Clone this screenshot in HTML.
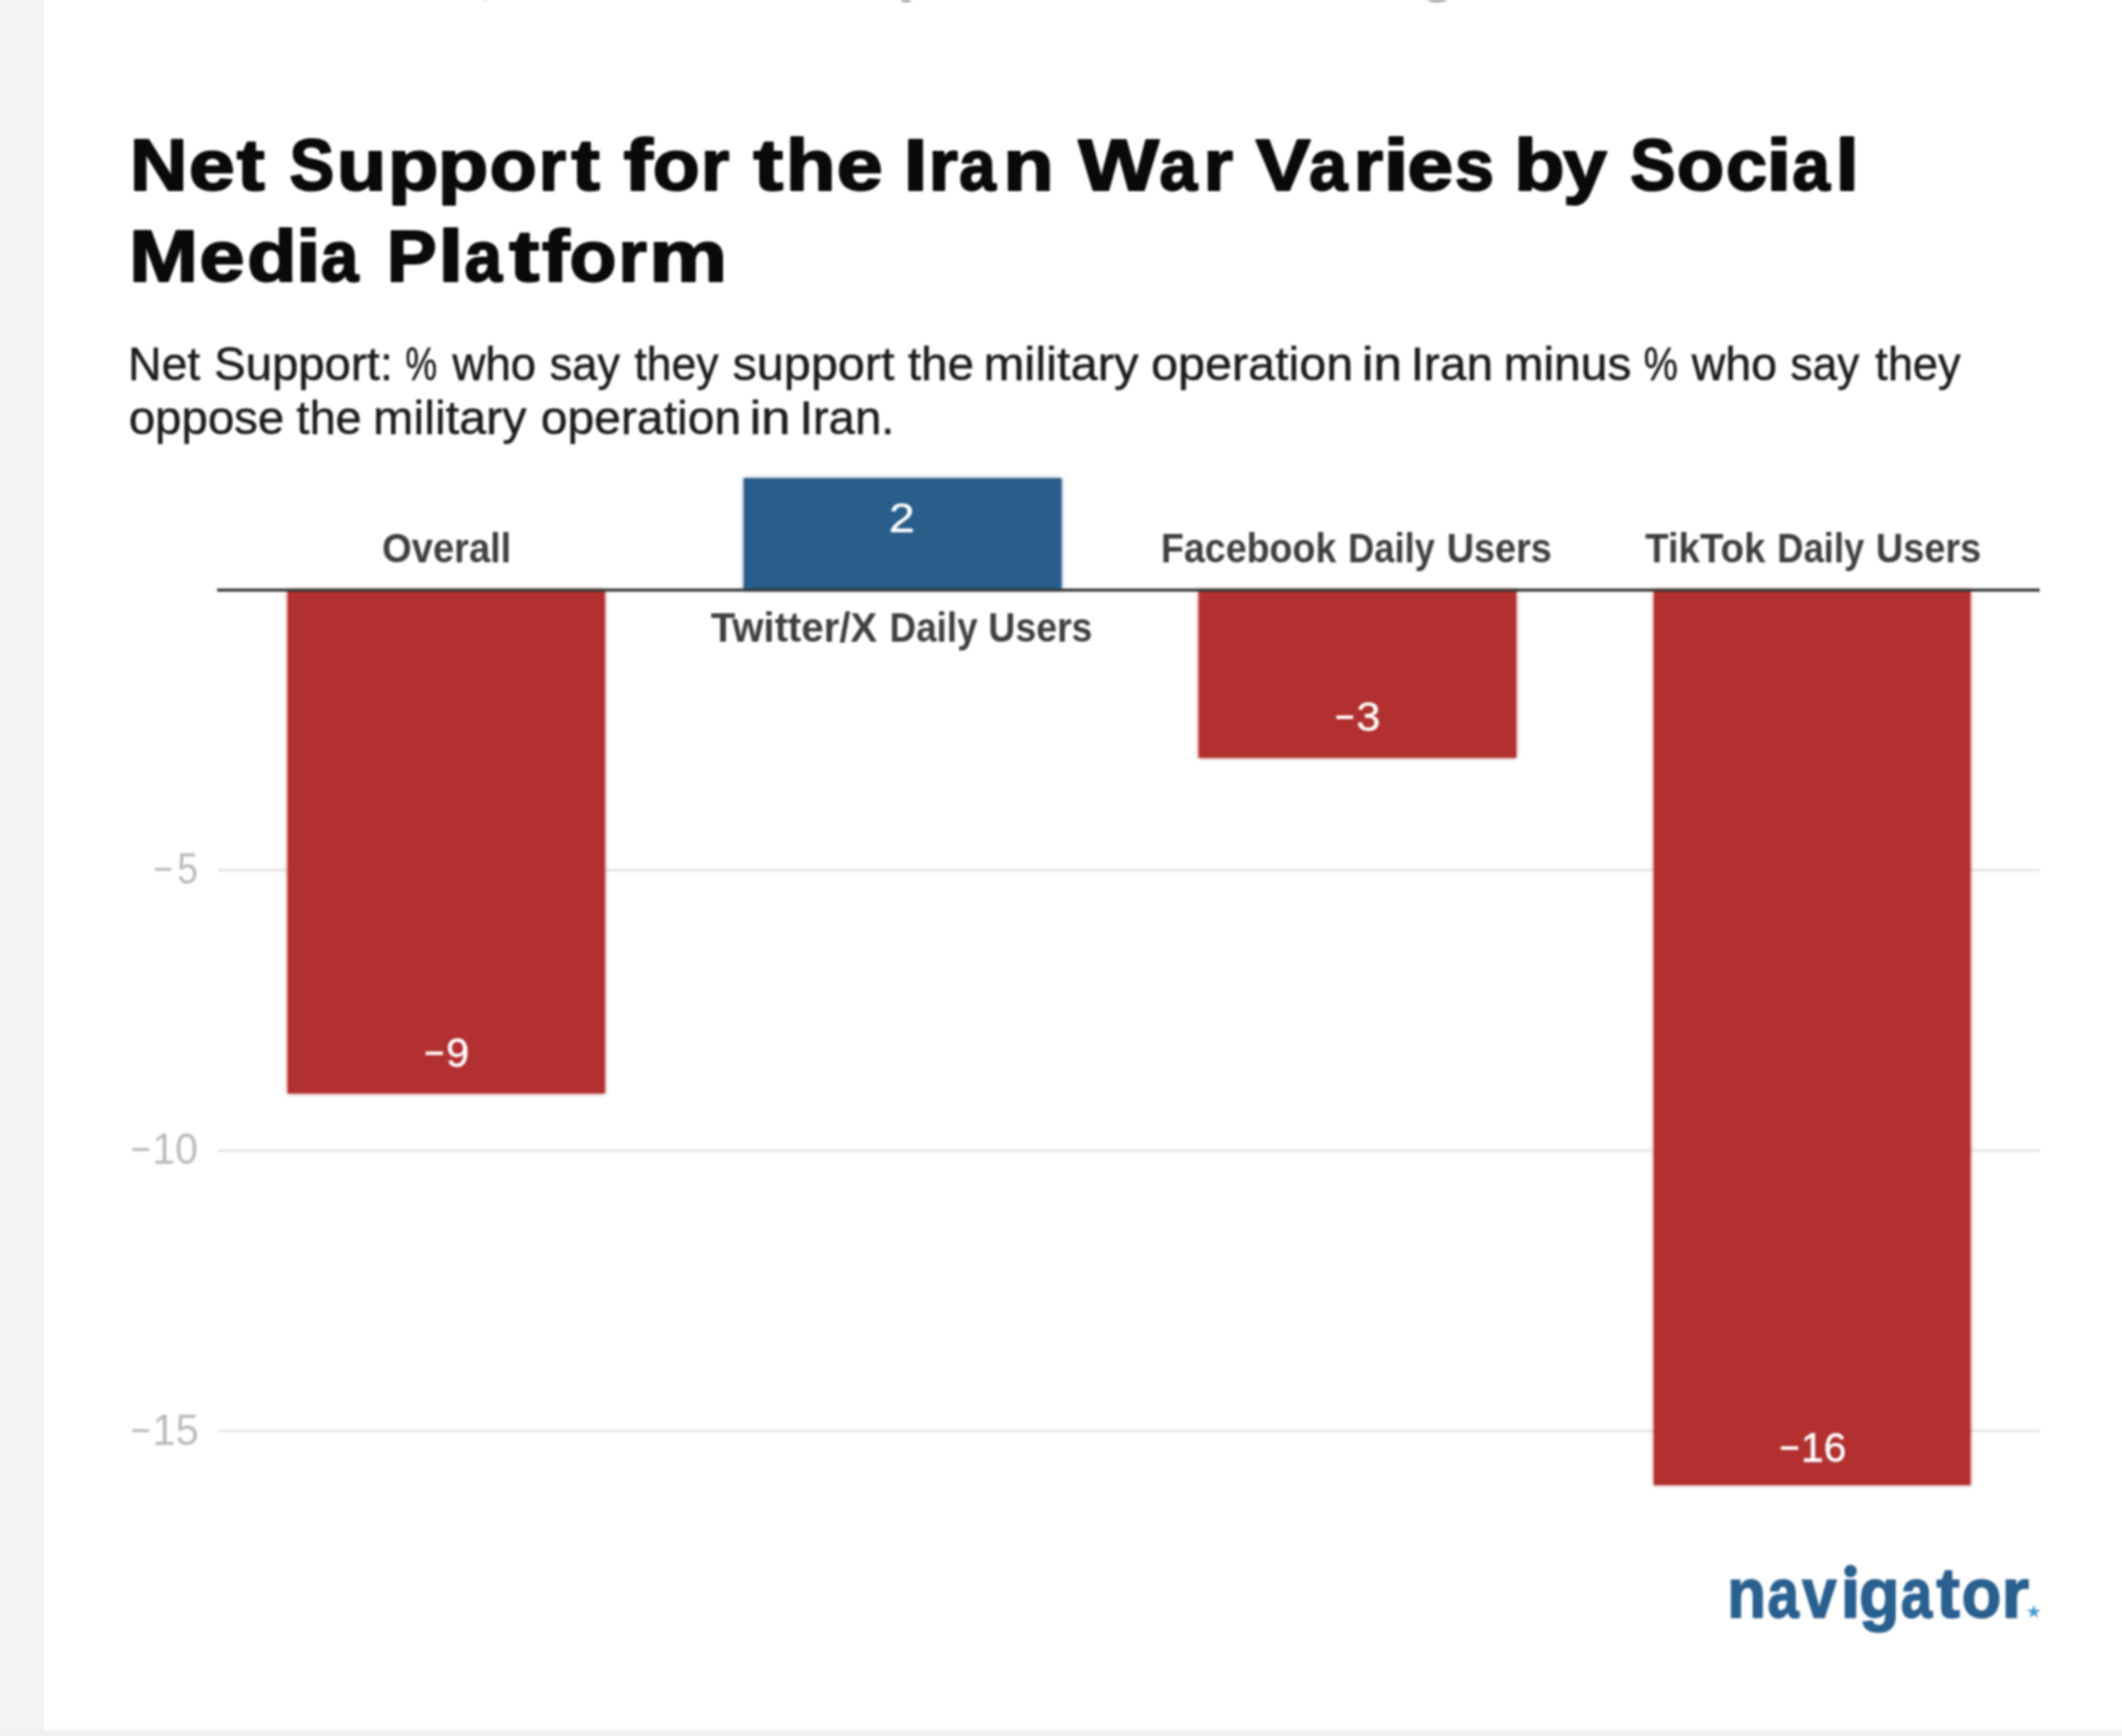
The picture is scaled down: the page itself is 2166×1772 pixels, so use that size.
<!DOCTYPE html>
<html lang="en">
<head>
<meta charset="utf-8">
<title>Net Support for the Iran War Varies by Social Media Platform</title>
<style>
  html,body{margin:0;padding:0;background:#fff;overflow:hidden;}
  body{width:2166px;height:1772px;overflow:hidden;font-family:"Liberation Sans",sans-serif;}
  .page{position:relative;width:2166px;height:1772px;background:#fff;overflow:hidden;}
  .gutter{position:absolute;left:0;top:0;width:45px;height:1772px;background:#f4f4f4;}
  .foot{position:absolute;left:0;bottom:0;width:2166px;height:10px;
        background:linear-gradient(to bottom,rgba(238,238,238,0) 0%,rgba(238,238,238,.55) 45%,#efefef 75%,#f3f3f3 100%);}
  svg{position:absolute;left:0;top:0;display:block;filter:blur(1px);}
  svg text{font-family:"Liberation Sans",sans-serif;white-space:pre;}
  .sr{position:absolute;left:0;top:0;width:1px;height:1px;margin:0;overflow:hidden;clip:rect(0 0 0 0);clip-path:inset(50%);white-space:nowrap;font-family:"Liberation Sans",sans-serif;}
</style>
</head>
<body>
<div class="page">
  <h1 class="sr">Net Support for the Iran War Varies by Social Media Platform</h1>
  <p class="sr">Net Support: % who say they support the military operation in Iran minus % who say they oppose the military operation in Iran.</p>
  <p class="sr">Overall: −9. Twitter/X Daily Users: 2. Facebook Daily Users: −3. TikTok Daily Users: −16. navigator.</p>
  <div class="gutter"></div>
  <svg width="2166" height="1772" viewBox="0 0 2166 1772" role="img" aria-label="Bar chart of net support for the Iran war by social media platform">
    <!-- cropped descenders from text above the figure -->
    <g fill="#8a8a8a">
      <ellipse cx="925" cy="0" rx="5.5" ry="2.2"/>
      <ellipse cx="1467" cy="0" rx="10" ry="2.2"/>
      <ellipse cx="495" cy="0" rx="3" ry="1.2" fill="#d8d8d8"/>
    </g>
    <!-- title -->
    <g font-size="74.5" font-weight="bold" fill="#0a0a0a" stroke="#0a0a0a" stroke-width="2" stroke-linejoin="round">
      <text transform="matrix(1.0971 0 0 1 132.41 194.40)">N</text>
      <text transform="matrix(1.1333 0 0 1 192.80 194.40)">e</text>
      <text transform="matrix(1.1478 0 0 1 241.65 194.40)">t</text>
      <text transform="matrix(0.9191 0 0 1 295.53 194.40)">S</text>
      <text transform="matrix(1.1139 0 0 1 343.69 194.40)">u</text>
      <text transform="matrix(1.1387 0 0 1 395.81 194.40)">p</text>
      <text transform="matrix(1.1360 0 0 1 446.82 194.40)">p</text>
      <text transform="matrix(1.0582 0 0 1 499.63 194.40)">o</text>
      <text transform="matrix(0.9626 0 0 1 549.99 194.40)">r</text>
      <text transform="matrix(1.1696 0 0 1 583.33 194.40)">t</text>
      <text transform="matrix(1.2000 0 0 1 636.60 194.40)">f</text>
      <text transform="matrix(1.0557 0 0 1 666.23 194.40)">o</text>
      <text transform="matrix(0.9978 0 0 1 715.61 194.40)">r</text>
      <text transform="matrix(1.2261 0 0 1 769.07 194.40)">t</text>
      <text transform="matrix(1.1217 0 0 1 802.01 194.40)">h</text>
      <text transform="matrix(1.1361 0 0 1 853.99 194.40)">e</text>
      <text transform="matrix(1.1907 0 0 1 922.35 194.40)">I</text>
      <text transform="matrix(1.0374 0 0 1 947.81 194.40)">r</text>
      <text transform="matrix(0.9031 0 0 1 979.07 194.40)">a</text>
      <text transform="matrix(1.1361 0 0 1 1024.02 194.40)">n</text>
      <text transform="matrix(1.1701 0 0 1 1100.80 194.40)">W</text>
      <text transform="matrix(0.9308 0 0 1 1183.41 194.40)">a</text>
      <text transform="matrix(1.0374 0 0 1 1228.41 194.40)">r</text>
      <text transform="matrix(1.1262 0 0 1 1281.74 194.40)">V</text>
      <text transform="matrix(0.9434 0 0 1 1336.28 194.40)">a</text>
      <text transform="matrix(1.0374 0 0 1 1381.81 194.40)">r</text>
      <text transform="matrix(1.2585 0 0 1 1412.09 194.40)">i</text>
      <text transform="matrix(1.1333 0 0 1 1436.40 194.40)">e</text>
      <text transform="matrix(0.9662 0 0 1 1484.94 194.40)">s</text>
      <text transform="matrix(1.1333 0 0 1 1545.43 194.40)">b</text>
      <text transform="matrix(1.0783 0 0 1 1595.59 194.40)">y</text>
      <text transform="matrix(0.9303 0 0 1 1664.01 194.40)">S</text>
      <text transform="matrix(1.0684 0 0 1 1711.59 194.40)">o</text>
      <text transform="matrix(1.0152 0 0 1 1761.75 194.40)">c</text>
      <text transform="matrix(1.2585 0 0 1 1802.69 194.40)">i</text>
      <text transform="matrix(0.9258 0 0 1 1829.52 194.40)">a</text>
      <text transform="matrix(1.1805 0 0 1 1873.20 194.40)">l</text>
      <text transform="matrix(1.1365 0 0 1 131.82 287.10)">M</text>
      <text transform="matrix(1.1139 0 0 1 203.46 287.10)">e</text>
      <text transform="matrix(1.1120 0 0 1 252.16 287.10)">d</text>
      <text transform="matrix(1.2488 0 0 1 301.74 287.10)">i</text>
      <text transform="matrix(0.9258 0 0 1 327.62 287.10)">a</text>
      <text transform="matrix(1.0272 0 0 1 394.66 287.10)">P</text>
      <text transform="matrix(1.2488 0 0 1 447.14 287.10)">l</text>
      <text transform="matrix(0.9233 0 0 1 474.32 287.10)">a</text>
      <text transform="matrix(1.2391 0 0 1 519.66 287.10)">t</text>
      <text transform="matrix(1.1326 0 0 1 553.28 287.10)">f</text>
      <text transform="matrix(1.0557 0 0 1 581.23 287.10)">o</text>
      <text transform="matrix(1.0022 0 0 1 631.29 287.10)">r</text>
      <text transform="matrix(1.2053 0 0 1 662.47 287.10)">m</text>
    </g>
    <!-- subtitle -->
    <g font-size="48.5" fill="#1c1c1c" stroke="#1c1c1c" stroke-width="0.5">
      <text transform="matrix(0.9746 0 0 1 130.75 388.00)">Net</text>
      <text transform="matrix(0.9958 0 0 1 218.61 388.00)">Support:</text>
      <text transform="matrix(0.7522 0 0 1 413.83 388.00)">%</text>
      <text transform="matrix(0.9609 0 0 1 461.75 388.00)">who</text>
      <text transform="matrix(0.9546 0 0 1 560.92 388.00)">say</text>
      <text transform="matrix(0.9388 0 0 1 647.45 388.00)">they</text>
      <text transform="matrix(1.0212 0 0 1 747.82 388.00)">support</text>
      <text transform="matrix(1.0000 0 0 1 926.70 388.00)">the</text>
      <text transform="matrix(1.0307 0 0 1 1003.90 388.00)">military</text>
      <text transform="matrix(1.0193 0 0 1 1175.11 388.00)">operation</text>
      <text transform="matrix(1.0816 0 0 1 1390.23 388.00)">in</text>
      <text transform="matrix(1.0053 0 0 1 1440.03 388.00)">Iran</text>
      <text transform="matrix(1.0101 0 0 1 1534.67 388.00)">minus</text>
      <text transform="matrix(0.8101 0 0 1 1677.83 388.00)">%</text>
      <text transform="matrix(0.9805 0 0 1 1726.65 388.00)">who</text>
      <text transform="matrix(0.9329 0 0 1 1827.55 388.00)">say</text>
      <text transform="matrix(0.9532 0 0 1 1914.04 388.00)">they</text>
      <text transform="matrix(0.9974 0 0 1 131.46 442.70)">oppose</text>
      <text transform="matrix(0.9891 0 0 1 302.61 442.70)">the</text>
      <text transform="matrix(1.0193 0 0 1 380.84 442.70)">military</text>
      <text transform="matrix(1.0107 0 0 1 552.03 442.70)">operation</text>
      <text transform="matrix(1.1040 0 0 1 765.16 442.70)">in</text>
      <text transform="matrix(0.9955 0 0 1 816.37 442.70)">Iran.</text>
    </g>
    <!-- gridlines -->
    <g>
      <rect x="222.8" y="887.0" width="1859.2" height="2.6" fill="#e5e5e5"/>
      <rect x="222.8" y="1173.1" width="1859.2" height="2.6" fill="#e5e5e5"/>
      <rect x="222.8" y="1459.2" width="1859.2" height="2.6" fill="#e5e5e5"/>
    </g>
    <!-- y tick labels -->
    <g font-size="44" fill="#bbbbbb">
      <text transform="matrix(0.7812 0 0 1 156.44 902.20)">−</text>
      <text transform="matrix(0.8675 0 0 1 181.08 902.20)">5</text>
      <text transform="matrix(0.8000 0 0 1 133.50 1188.20)">−</text>
      <text transform="matrix(0.9523 0 0 1 155.51 1188.20)">10</text>
      <text transform="matrix(0.8000 0 0 1 133.50 1474.60)">−</text>
      <text transform="matrix(0.9691 0 0 1 155.45 1474.60)">15</text>
    </g>
    <!-- soft colour bleed around bars -->
    <defs><filter id="halo" x="-5%" y="-5%" width="110%" height="110%"><feGaussianBlur stdDeviation="2.2"/></filter></defs>
    <g filter="url(#halo)" opacity="0.65">
      <rect x="293.5" y="602.3" width="324.0" height="513.9" fill="#b23130"/>
      <rect x="759.1" y="488.1" width="324.5" height="114.2" fill="#285e89"/>
      <rect x="1223.5" y="602.3" width="324.3" height="171.3" fill="#b23130"/>
      <rect x="1688.0" y="602.3" width="323.4" height="913.6" fill="#b23130"/>
    </g>
    <!-- bars -->
    <g>
      <rect x="293.5" y="602.3" width="324.0" height="513.9" fill="#b23130"/>
      <rect x="759.1" y="488.1" width="324.5" height="114.2" fill="#285e89"/>
      <rect x="1223.5" y="602.3" width="324.3" height="171.3" fill="#b23130"/>
      <rect x="1688.0" y="602.3" width="323.4" height="913.6" fill="#b23130"/>
    </g>
    <!-- zero axis -->
    <rect x="221.6" y="600.7" width="1860.4" height="3.2" fill="#3a3a3a"/>
    <!-- category labels -->
    <g font-size="42.5" font-weight="bold" fill="#3f3f3f">
      <text transform="matrix(0.9156 0 0 1 390.00 573.60)">Overall</text>
      <text transform="matrix(0.9643 0 0 1 725.42 655.00)">Twitter/X</text>
      <text transform="matrix(0.8832 0 0 1 908.07 655.00)">Daily</text>
      <text transform="matrix(0.9009 0 0 1 1008.75 655.00)">Users</text>
      <text transform="matrix(0.9018 0 0 1 1185.12 573.60)">Facebook</text>
      <text transform="matrix(0.8731 0 0 1 1376.00 573.60)">Daily</text>
      <text transform="matrix(0.9096 0 0 1 1476.63 573.60)">Users</text>
      <text transform="matrix(0.9230 0 0 1 1679.24 573.60)">TikTok</text>
      <text transform="matrix(0.8741 0 0 1 1814.10 573.60)">Daily</text>
      <text transform="matrix(0.9096 0 0 1 1914.83 573.60)">Users</text>
    </g>
    <!-- value labels -->
    <g font-size="42" stroke="#fff" stroke-width="0.35">
      <text fill="#ffffff" transform="matrix(1.1325 0 0 1 907.14 543.20)">2</text>
      <text fill="#ffffff" transform="matrix(0.8244 0 0 1 1362.55 746.20)">−</text>
      <text fill="#ffffff" transform="matrix(1.0532 0 0 1 1384.46 746.20)">3</text>
      <text fill="#ffffff" transform="matrix(0.8439 0 0 1 432.91 1089.00)">−</text>
      <text fill="#ffffff" transform="matrix(1.0182 0 0 1 455.16 1089.00)">9</text>
      <text fill="#ffffff" transform="matrix(0.8439 0 0 1 1816.21 1491.50)">−</text>
      <text fill="#ffffff" transform="matrix(0.9940 0 0 1 1838.37 1491.50)">16</text>
    </g>
    <!-- logo -->
    <g font-size="73" font-weight="bold" fill="#29608f" stroke="#29608f" stroke-width="1.6" stroke-linejoin="round">
      <text transform="matrix(0.8908 0 0 1 1763.07 1650.90)">n</text>
      <text transform="matrix(0.7871 0 0 1 1804.33 1650.90)">a</text>
      <text transform="matrix(0.8675 0 0 1 1839.58 1650.90)">v</text>
      <text transform="matrix(1.0100 0 0 1 1878.50 1650.90)">ı</text>
      <text transform="matrix(0.9306 0 0 1 1897.51 1650.90)">g</text>
      <text transform="matrix(0.7897 0 0 1 1940.32 1650.90)">a</text>
      <text transform="matrix(0.9911 0 0 1 1976.61 1650.90)">t</text>
      <text transform="matrix(0.9103 0 0 1 2002.30 1650.90)">o</text>
      <text transform="matrix(0.9911 0 0 1 2042.99 1650.90)">r</text>
    </g>
    <circle cx="1888.9" cy="1603.6" r="6.4" fill="#29608f"/>
    <path fill="#4a9bd1" transform="translate(2075.9 1645.4) scale(7.4)" d="M0,-1 L0.2245,-0.309 L0.951,-0.309 L0.363,0.118 L0.588,0.809 L0,0.382 L-0.588,0.809 L-0.363,0.118 L-0.951,-0.309 L-0.2245,-0.309 Z"/>
  </svg>
  <div class="foot"></div>
</div>
</body>
</html>
